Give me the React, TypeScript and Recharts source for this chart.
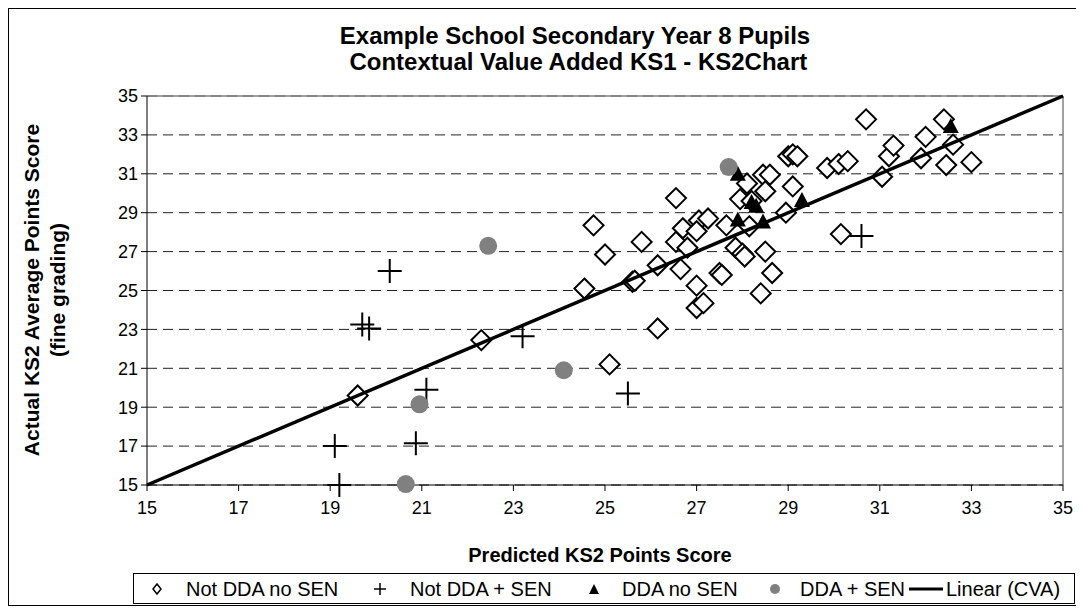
import React from "react";
import {
  ScatterChart,
  Scatter,
  XAxis,
  YAxis,
  CartesianGrid,
  ReferenceLine,
} from "recharts";

// [predicted, actual]
const notDdaNoSen: [number, number][] = [
  [19.6, 19.6], [22.3, 22.45], [24.55, 25.1], [24.75, 28.35], [25.0, 26.85],
  [25.1, 21.2], [25.6, 25.45], [25.65, 25.5], [25.8, 27.5], [26.15, 23.05],
  [26.15, 26.3], [26.55, 29.75], [26.55, 27.5], [26.65, 26.1], [26.7, 28.2],
  [26.8, 27.2], [27.0, 25.25], [27.0, 24.1], [27.05, 28.6], [27.0, 28.05],
  [27.15, 24.35], [27.25, 28.7], [27.5, 25.9], [27.55, 25.8], [27.65, 28.35],
  [27.85, 27.2], [27.95, 29.7], [28.0, 26.9], [28.05, 26.75], [28.1, 30.5],
  [28.15, 28.3], [28.2, 29.6], [28.4, 24.85], [28.45, 30.95], [28.5, 30.1],
  [28.5, 27.0], [28.6, 30.95], [28.65, 25.9], [28.95, 29.0], [29.0, 31.9],
  [29.1, 32.0], [29.2, 31.9], [29.1, 30.35], [29.85, 31.3], [30.1, 31.5],
  [30.3, 31.65], [30.15, 27.9], [30.7, 33.8], [31.05, 30.85], [31.2, 31.9],
  [31.3, 32.45], [31.9, 31.8], [32.0, 32.9], [32.4, 33.8], [32.45, 31.45],
  [32.6, 32.5], [33.0, 31.6],
];

const notDdaSen: [number, number][] = [
  [19.2, 15.0], [19.1, 17.0], [19.7, 23.25], [19.85, 23.05], [20.3, 26.0],
  [20.87, 17.15], [21.1, 19.9], [23.2, 22.65], [25.5, 19.7], [30.6, 27.8],
];

const ddaNoSen: [number, number][] = [
  [27.9, 30.95], [28.2, 29.5], [28.3, 29.3], [27.9, 28.6], [28.45, 28.5],
  [29.3, 29.6], [32.55, 33.4],
];

const ddaSen: [number, number][] = [
  [27.7, 31.35], [22.45, 27.3], [24.1, 20.9], [20.95, 19.15], [20.65, 15.05],
];

const cvaLine: [number, number][] = [
  [15, 15], [35, 35],
];

const ticks = [15, 17, 19, 21, 23, 25, 27, 29, 31, 33, 35];

const toPoints = (rows: [number, number][]) =>
  rows.map(([x, y]) => ({ x, y }));

const font = '"Liberation Sans", Arial, sans-serif';

function Diamond({ cx, cy }: any) {
  const r = 10;
  return (
    <path
      d={`M${cx},${cy - r}L${cx + r},${cy}L${cx},${cy + r}L${cx - r},${cy}Z`}
      fill="#fff"
      stroke="#000"
      strokeWidth={2}
    />
  );
}

function Plus({ cx, cy }: any) {
  const r = 12;
  return (
    <path
      d={`M${cx - r},${cy}H${cx + r}M${cx},${cy - r}V${cy + r}`}
      stroke="#000"
      strokeWidth={2}
      fill="none"
    />
  );
}

function Triangle({ cx, cy }: any) {
  return (
    <path
      d={`M${cx},${cy - 9}L${cx + 8},${cy + 6}L${cx - 8},${cy + 6}Z`}
      fill="#000"
    />
  );
}

function Dot({ cx, cy }: any) {
  return <circle cx={cx} cy={cy} r={9} fill="#808080" />;
}

// page x -> left inside the bordered box (inner origin at page 9)
const px = (x: number) => x - 9;

export default function App() {
  const legendText = (x: number, label: string) => (
    <span
      style={{
        position: "absolute",
        left: x - 134,
        top: 3,
        lineHeight: "24px",
        whiteSpace: "nowrap",
      }}
    >
      {label}
    </span>
  );
  const legendIcon = (x: number, w: number, node: React.ReactNode) => (
    <svg
      width={w}
      height={14}
      style={{ position: "absolute", left: x - 134 - w / 2, top: 8 }}
    >
      {node}
    </svg>
  );

  return (
    <div
      style={{
        position: "relative",
        width: 1072,
        height: 598,
        border: "1px solid #000",
        boxSizing: "border-box",
        fontFamily: font,
        background: "#fff",
      }}
    >
      <div
        style={{
          position: "absolute",
          top: 14,
          left: px(575) - 400,
          width: 800,
          textAlign: "center",
          fontWeight: "bold",
          fontSize: 24,
          lineHeight: "26px",
        }}
      >
        <div>Example School Secondary Year 8 Pupils</div>
        <div>&nbsp;Contextual Value Added KS1 - KS2Chart</div>
      </div>

      <div
        style={{
          position: "absolute",
          left: px(45) - 200,
          top: px(290) - 26,
          width: 400,
          height: 52,
          transform: "rotate(-90deg)",
          textAlign: "center",
          fontWeight: "bold",
          fontSize: 21,
          lineHeight: "26px",
        }}
      >
        <div>Actual KS2 Average Points Score</div>
        <div>(fine grading)</div>
      </div>

      <div
        style={{
          position: "absolute",
          left: px(600) - 300,
          width: 600,
          top: px(555) - 12,
          lineHeight: "24px",
          textAlign: "center",
          fontWeight: "bold",
          fontSize: 20,
        }}
      >
        Predicted KS2 Points Score
      </div>

      <ScatterChart
        width={1070}
        height={596}
        margin={{ top: 87, right: 16, bottom: 90, left: 0 }}
        style={{ position: "absolute", left: 0, top: 0 }}
      >
        <CartesianGrid
          vertical={false}
          stroke="#222"
          strokeDasharray="10 6"
        />
        <XAxis
          type="number"
          dataKey="x"
          domain={[15, 35]}
          ticks={ticks}
          interval={0}
          height={30}
          tick={{ fill: "#000", fontSize: 18, fontFamily: font }}
          tickSize={6}
          tickMargin={10}
          axisLine={{ stroke: "#000", strokeWidth: 1 }}
          tickLine={{ stroke: "#000" }}
        />
        <YAxis
          type="number"
          dataKey="y"
          domain={[15, 35]}
          ticks={ticks}
          interval={0}
          width={138}
          tick={{ fill: "#000", fontSize: 18, fontFamily: font }}
          tickSize={6}
          tickMargin={3}
          axisLine={{ stroke: "#000", strokeWidth: 1 }}
          tickLine={{ stroke: "#000" }}
        />
        <ReferenceLine y={35} stroke="#808080" strokeWidth={1.5} />
        <ReferenceLine x={35} stroke="#808080" strokeWidth={1.5} />
        <Scatter
          name="Not DDA no SEN"
          data={toPoints(notDdaNoSen)}
          shape={(p: any) => <Diamond {...p} />}
          isAnimationActive={false}
        />
        <Scatter
          name="Not DDA + SEN"
          data={toPoints(notDdaSen)}
          shape={(p: any) => <Plus {...p} />}
          isAnimationActive={false}
        />
        <Scatter
          name="DDA no SEN"
          data={toPoints(ddaNoSen)}
          shape={(p: any) => <Triangle {...p} />}
          isAnimationActive={false}
        />
        <Scatter
          name="DDA + SEN"
          data={toPoints(ddaSen)}
          shape={(p: any) => <Dot {...p} />}
          isAnimationActive={false}
        />
        <Scatter
          name="Linear (CVA)"
          data={toPoints(cvaLine)}
          line={{ stroke: "#000", strokeWidth: 3.5 }}
          shape={() => null}
          isAnimationActive={false}
        />
      </ScatterChart>

      <div
        style={{
          position: "absolute",
          left: px(133),
          top: px(573),
          width: 1075 - 133,
          height: 31,
          border: "1px solid #000",
          boxSizing: "border-box",
          fontSize: 20,
        }}
      >
        {legendIcon(157, 12, <path d="M6,2L10,7L6,12L2,7Z" fill="#fff" stroke="#000" strokeWidth={1.5} />)}
        {legendText(186, "Not DDA no SEN")}
        {legendIcon(380, 14, <path d="M1,7H13M7,1V13" stroke="#000" strokeWidth={1.5} />)}
        {legendText(410, "Not DDA + SEN")}
        {legendIcon(594, 12, <path d="M6,2L11,12L1,12Z" fill="#000" />)}
        {legendText(622, "DDA no SEN")}
        {legendIcon(775, 12, <circle cx={6} cy={7} r={5} fill="#808080" />)}
        {legendText(800, "DDA + SEN")}
        {legendIcon(926, 34, <line x1={0} y1={7} x2={34} y2={7} stroke="#000" strokeWidth={3} />)}
        {legendText(946, "Linear (CVA)")}
      </div>
    </div>
  );
}
